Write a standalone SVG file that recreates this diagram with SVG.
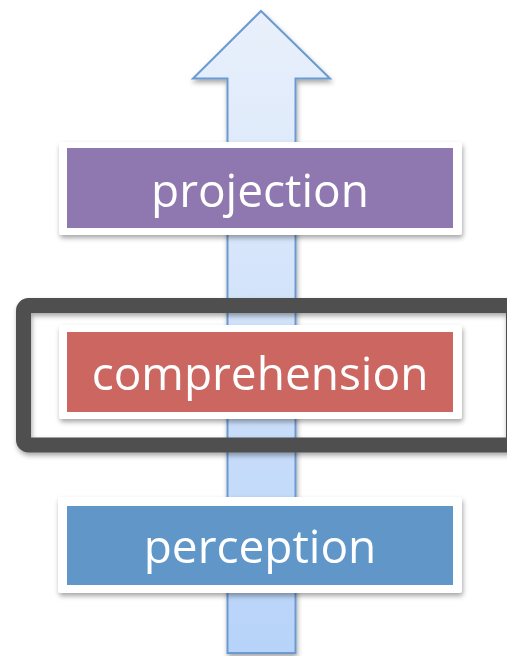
<svg xmlns="http://www.w3.org/2000/svg" width="507" height="656" viewBox="0 0 507 656">
  <defs>
    <linearGradient id="arrowFill" x1="0" y1="0" x2="0" y2="1">
      <stop offset="0" stop-color="#E9F0FB"/>
      <stop offset="1" stop-color="#B7D3F9"/>
    </linearGradient>
    <filter id="shadow" x="-10%" y="-20%" width="120%" height="150%">
      <feDropShadow dx="1" dy="3" stdDeviation="2.5" flood-color="#000" flood-opacity="0.35"/>
    </filter>
  </defs>
  <style>
    .frame { fill: #FFFFFF; }
    .label { font-family: "Open Sans", "Noto Sans", "Liberation Sans", sans-serif; font-size: 46px; fill: #FFFFFF; text-anchor: middle; }
  </style>

  <!-- upward arrow running behind the stages -->
  <g id="connectors">
    <path d="M261,11 L330,78.5 L295.5,78.5 L295.5,653 L227.5,653 L227.5,78.5 L193,78.5 Z"
          fill="url(#arrowFill)" stroke="#6A9AD0" stroke-width="2" stroke-linejoin="miter" filter="url(#shadow)"/>
  </g>

  <g id="projection" filter="url(#shadow)">
    <rect class="frame" x="59" y="142" width="403" height="93" rx="3"/>
    <rect x="67" y="148" width="386" height="80" fill="#8F78AF"/>
    <text class="label" x="260" y="207">projection</text>
  </g>

  <g id="comprehension" filter="url(#shadow)">
    <rect class="frame" x="59" y="325" width="403" height="94" rx="3"/>
    <rect x="67" y="332" width="386" height="80" fill="#CB6661"/>
    <text class="label" x="260" y="390">comprehension</text>
  </g>

  <g id="focus">
    <rect x="23.5" y="305.5" width="490" height="139.5" rx="5" fill="none" stroke="#4F4F4F" stroke-width="15" filter="url(#shadow)"/>
  </g>

  <g id="perception" filter="url(#shadow)">
    <rect class="frame" x="58" y="497" width="404" height="96" rx="3"/>
    <rect x="67" y="506" width="386" height="79" fill="#6096C8"/>
    <text class="label" x="260" y="563">perception</text>
  </g>
</svg>
